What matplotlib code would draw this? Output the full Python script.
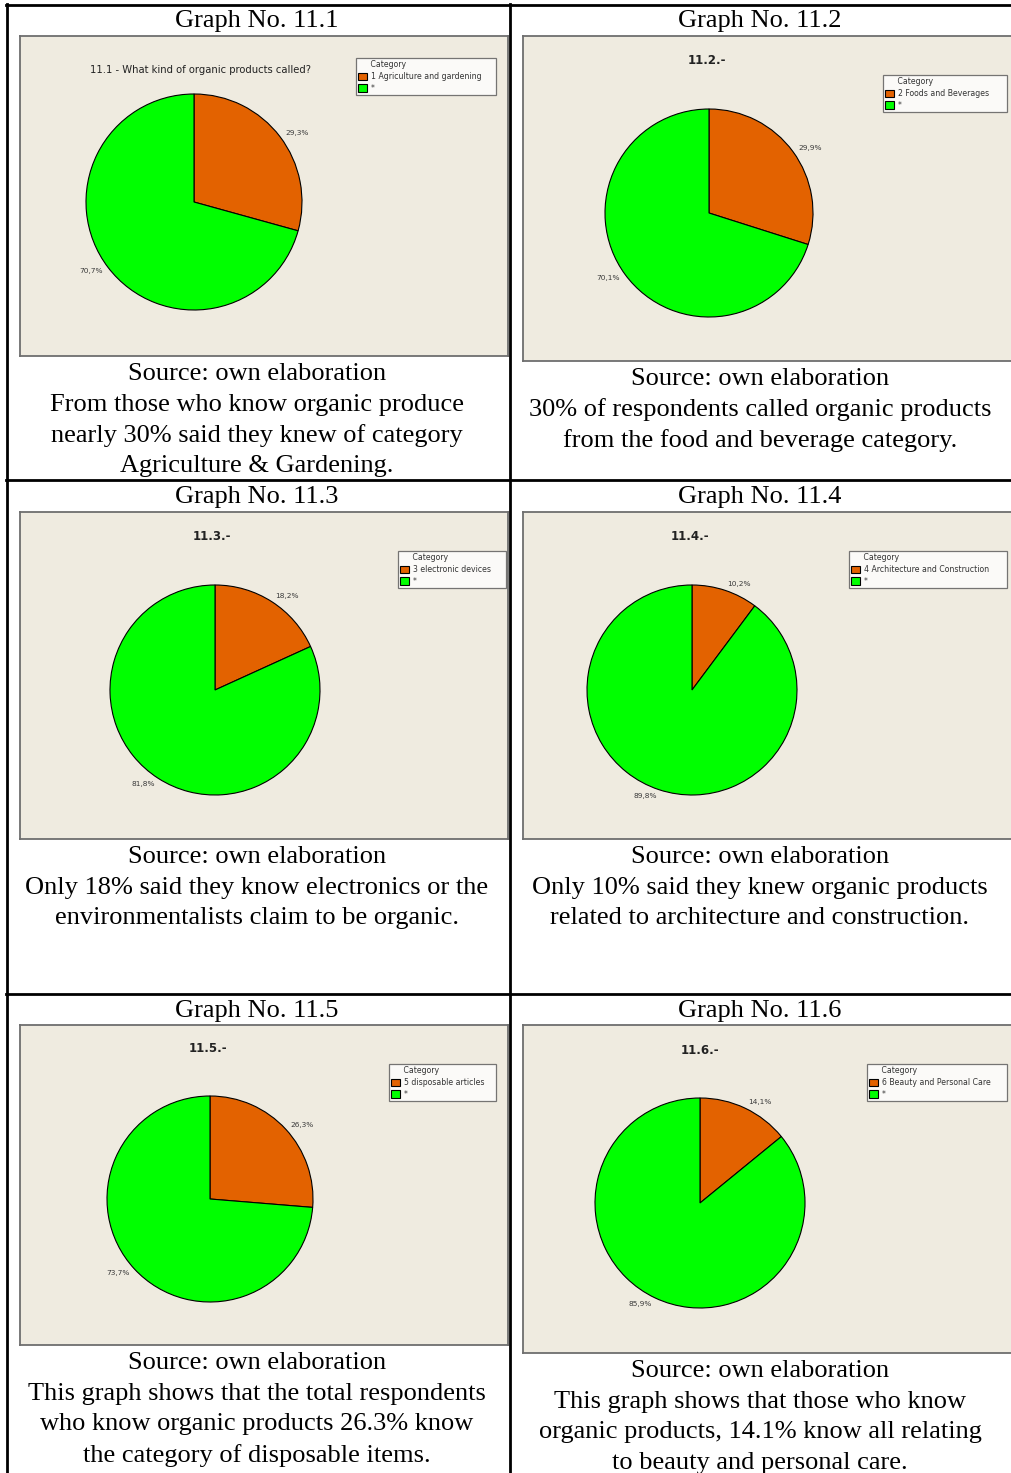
import matplotlib
matplotlib.use("Agg")
import matplotlib.pyplot as plt
from matplotlib.lines import Line2D

# data
graph_ids = ["11.1", "11.2", "11.3", "11.4", "11.5", "11.6"]
category_names = ["1 Agriculture and gardening", "2 Foods and Beverages",
                  "3 electronic devices", "4 Architecture and Construction",
                  "5 disposable articles", "6 Beauty and Personal Care"]
category_share = [29.3, 29.9, 18.2, 10.2, 26.3, 14.1]
other_share = [70.7, 70.1, 81.8, 89.8, 73.7, 85.9]
chart_titles = ["11.1 - What kind of organic products called?",
                "11.2.-", "11.3.-", "11.4.-", "11.5.-", "11.6.-"]
captions = [
    ["Source: own elaboration", "From those who know organic produce",
     "nearly 30% said they knew of category", "Agriculture & Gardening."],
    ["Source: own elaboration", "30% of respondents called organic products",
     "from the food and beverage category."],
    ["Source: own elaboration", "Only 18% said they know electronics or the",
     "environmentalists claim to be organic."],
    ["Source: own elaboration", "Only 10% said they knew organic products",
     "related to architecture and construction."],
    ["Source: own elaboration", "This graph shows that the total respondents",
     "who know organic products 26.3% know", "the category of disposable items."],
    ["Source: own elaboration", "This graph shows that those who know",
     "organic products, 14.1% know all relating", "to beauty and personal care."],
]

W, H = 1011, 1473
ORANGE = "#E36200"
GREEN = "#00FF00"
PANEL = "#EFEBE0"

# layout in pixels
col_center = [257, 760]
title_y = [21, 497, 1011]
panels = [(20, 36, 508, 356), (523, 36, 1013, 361),
          (20, 512, 508, 839), (523, 512, 1013, 839),
          (20, 1025, 508, 1345), (523, 1025, 1013, 1353)]
pies = [(194, 202, 108), (709, 213, 104),
        (215, 690, 105), (692, 690, 105),
        (210, 1199, 103), (700, 1203, 105)]
title_pos = [(200, 70), (707, 60), (212, 536), (690, 536), (208, 1049), (700, 1050)]
legend_box = [(356, 58, 496, 96), (883, 75, 1007, 114),
              (398, 551, 506, 590), (849, 551, 1007, 590),
              (389, 1064, 496, 1102), (867, 1064, 1007, 1104)]
caption_y = [374, 379, 857, 857, 1363, 1371]


def fx(x):
    return x / W


def fy(y):
    return 1 - y / H


fig = plt.figure(figsize=(W / 100, H / 100), dpi=100)
fig.patch.set_facecolor("white")

# table grid
lw = 2.0
for x in [6.5, 509.5]:
    fig.add_artist(Line2D([fx(x), fx(x)], [fy(4), fy(H + 5)], color="black", lw=lw))
for y in [5, 480, 994]:
    fig.add_artist(Line2D([fx(6), fx(W + 5)], [fy(y), fy(y)], color="black", lw=lw))

for i in range(6):
    row, col = divmod(i, 2)
    fig.text(fx(col_center[col]), fy(title_y[row]), "Graph No. " + graph_ids[i],
             ha="center", va="center", fontsize=19, family="Liberation Serif")

    # chart panel
    x0, y0, x1, y1 = panels[i]
    pax = fig.add_axes([fx(x0), fy(y1), (x1 - x0) / W, (y1 - y0) / H])
    pax.set_facecolor(PANEL)
    pax.set_xticks([])
    pax.set_yticks([])
    for s in pax.spines.values():
        s.set_color("#6e6e6e")
        s.set_linewidth(1.3)

    # pie
    cx, cy, r = pies[i]
    ax = fig.add_axes([fx(cx - r), fy(cy + r), 2 * r / W, 2 * r / H])
    vals = [category_share[i], other_share[i]]
    labels = [f"{v:.1f}%".replace(".", ",") for v in vals]
    wedges, texts = ax.pie(vals, colors=[ORANGE, GREEN], startangle=90, counterclock=False,
                           labels=labels, labeldistance=1.06,
                           wedgeprops=dict(edgecolor="black", linewidth=0.8),
                           textprops=dict(fontsize=5.3, color="#3a3a3a"))
    ax.set_xlim(-1, 1)
    ax.set_ylim(-1, 1)
    ax.set_facecolor("none")

    tx, ty = title_pos[i]
    if i == 0:
        fig.text(fx(tx), fy(ty), chart_titles[i], ha="center", va="center",
                 fontsize=7.2, color="#222222")
    else:
        fig.text(fx(tx), fy(ty), chart_titles[i], ha="center", va="center",
                 fontsize=8.5, fontweight="bold", color="#222222")

    # legend box
    lx0, ly0, lx1, ly1 = legend_box[i]
    leg = ax.legend(wedges, [category_names[i], "*"], title="     Category",
                    loc="upper left", mode="expand",
                    bbox_to_anchor=(fx(lx0), fy(ly1), (lx1 - lx0) / W, (ly1 - ly0) / H),
                    bbox_transform=fig.transFigure, borderaxespad=0,
                    fontsize=5.6, title_fontsize=5.6, alignment="left",
                    frameon=True, fancybox=False, handlelength=1.1, handleheight=1.1,
                    handletextpad=0.5, labelspacing=0.35, borderpad=0.3)
    leg.get_frame().set_edgecolor("#555555")
    leg.get_frame().set_linewidth(0.9)
    leg.get_title().set_color("#333333")
    for t in leg.get_texts():
        t.set_color("#333333")

    for k, line in enumerate(captions[i]):
        fig.text(fx(col_center[col]), fy(caption_y[i] + k * 30.7), line,
                 ha="center", va="center", fontsize=19, family="Liberation Serif")

fig.savefig("out.png", dpi=100)
